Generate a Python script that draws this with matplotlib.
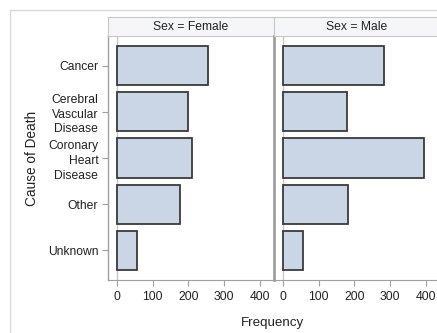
import numpy as np
import matplotlib
matplotlib.use('Agg')
import matplotlib.pyplot as plt
from matplotlib.patches import Rectangle

plt.rcParams['font.family'] = ['Liberation Sans', 'DejaVu Sans']

causes = ['Cancer', 'Cerebral\nVascular\nDisease', 'Coronary\nHeart\nDisease', 'Other', 'Unknown']
female = [256, 200, 209, 176, 57]
male = [284, 180, 396, 183, 57]
panels = ['Sex = Female', 'Sex = Male']
xticks = [0, 100, 200, 300, 400]

W, H = 437, 333
fig = plt.figure(figsize=(W / 100, H / 100), dpi=100)


def box(x0, y0, x1, y1):
    # pixel box (top-left origin) -> figure fraction
    return [x0 / W, 1 - y1 / H, (x1 - x0) / W, (y1 - y0) / H]


# outer frame
fig.patches.append(Rectangle((10 / W, -0.1), 1.2, 1 - 10 / H + 0.1, transform=fig.transFigure,
                             fill=False, edgecolor='#d9d9d9', linewidth=1))

fill = '#cad5e5'
edge = '#3a3a3a'
axcol = '#a0a0a0'
txt = '#222222'
ypos = np.arange(len(causes))

for i, (vals, title) in enumerate(zip([female, male], panels)):
    x0 = 108 + i * 166
    ax = fig.add_axes(box(x0, 36, x0 + 166, 280))
    ax.barh(ypos, vals, height=0.85, color=fill, edgecolor=edge, linewidth=1.3, zorder=3)
    ax.axvline(0, color='#c8c8c8', linewidth=1, zorder=1)
    ax.set_xlim(-25, 440)
    ax.set_ylim(4.64, -0.64)
    ax.set_xticks(xticks)
    ax.tick_params(axis='x', colors=axcol, labelcolor=txt, labelsize=8.7, length=4, pad=4)
    for s in ['top', 'right']:
        ax.spines[s].set_visible(False)
    ax.spines['bottom'].set_color(axcol)
    ax.spines['left'].set_color(axcol)
    if i == 0:
        ax.set_yticks(ypos)
        ax.set_yticklabels(causes, linespacing=1.3)
        ax.tick_params(axis='y', colors=axcol, labelcolor=txt, labelsize=8.7, length=4, pad=3)
        ax.set_ylabel('Cause of Death', fontsize=9.8, color=txt, labelpad=6)
        ax.spines['left'].set_linewidth(1)
    else:
        ax.set_yticks([])
        ax.spines['left'].set_linewidth(2)
    # header strip
    hx = fig.add_axes(box(x0, 17, x0 + 166, 36))
    hx.set_xticks([])
    hx.set_yticks([])
    hx.set_facecolor('#f4f6fa')
    for s in hx.spines.values():
        s.set_color('#c8c8c8')
    hx.text(0.5, 0.5, title, ha='center', va='center', fontsize=8.7, color=txt,
            transform=hx.transAxes)

fig.text(273 / W, 1 - 323 / H, 'Frequency', ha='center', va='center', fontsize=9.6, color=txt)

fig.savefig('out.png', dpi=100)
